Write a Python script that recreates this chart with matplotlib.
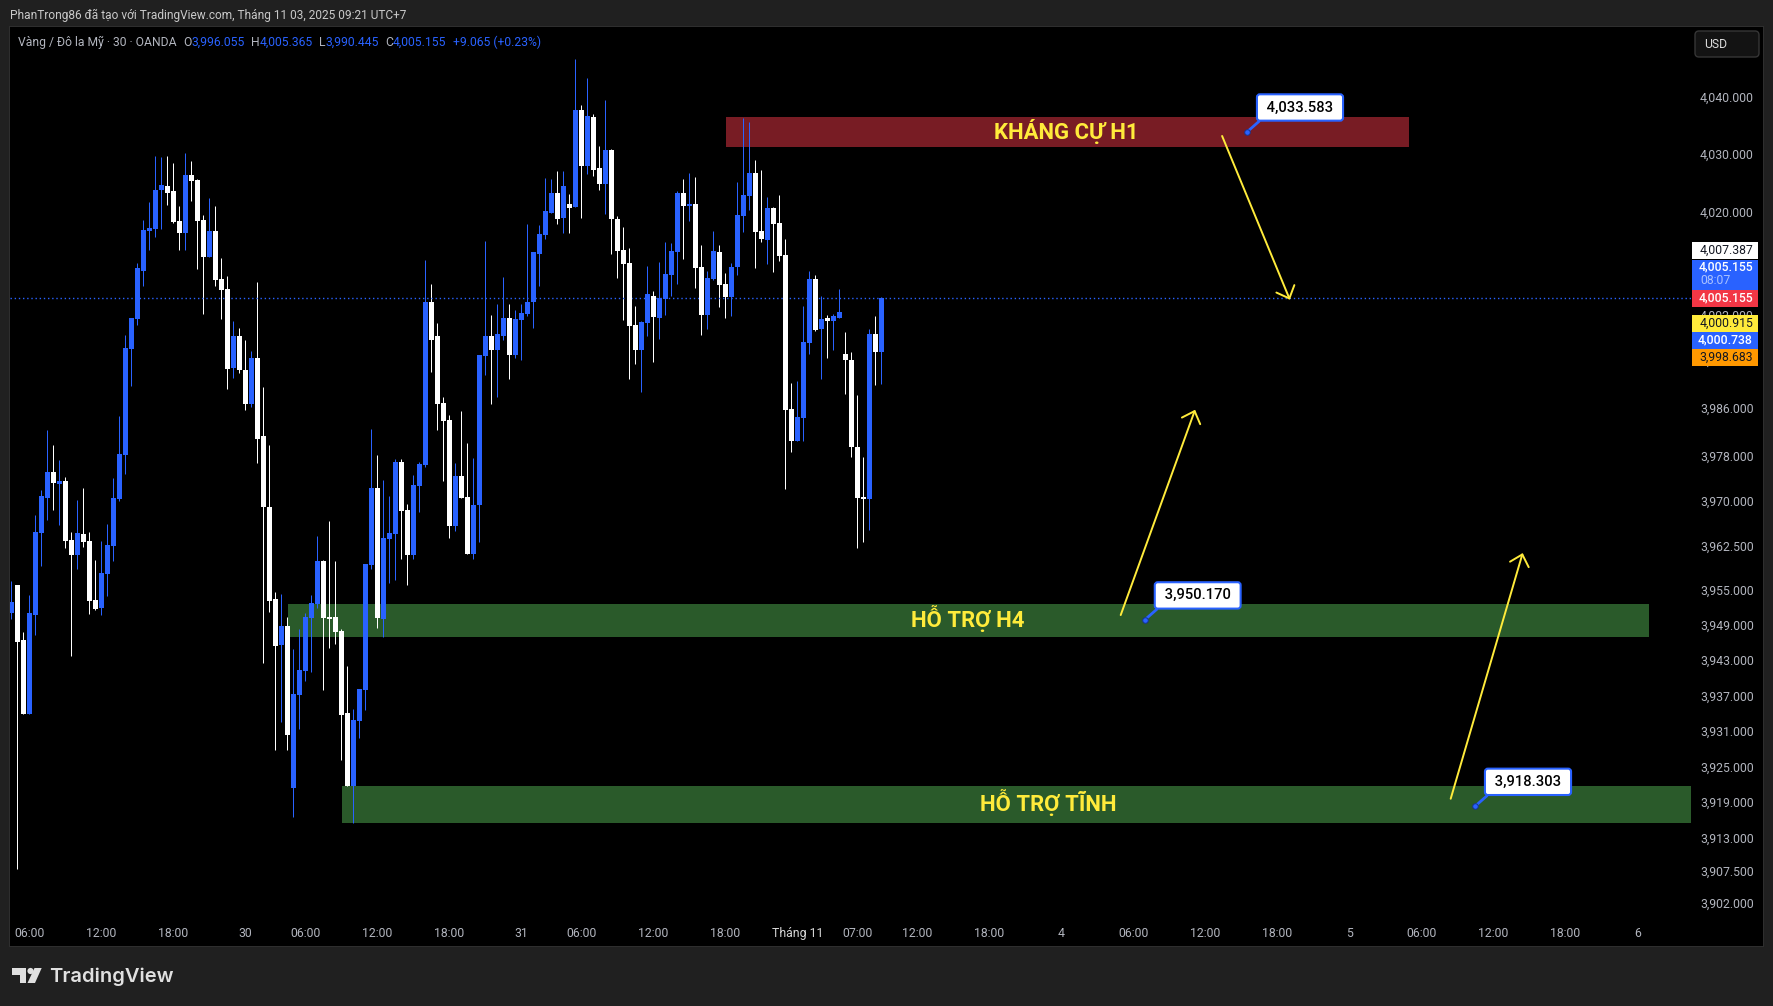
import matplotlib
matplotlib.use("Agg")
import matplotlib.pyplot as plt
from matplotlib.patches import Rectangle, FancyBboxPatch, Polygon, Circle

W, H = 1773, 1006
BLUE = "#2962ff"
YELLOW = "#ffeb3b"
GREY = "#b2b5be"
plt.rcParams["font.family"] = ["Roboto", "DejaVu Sans"]

# one row per 30 min bar
opens = [3951.4, 3956.1, 3946.7, 3934.1, 3951.0, 3965.0, 3971.0, 3975.5, 3973.4, 3973.9,
         3963.8, 3961.3, 3964.9, 3963.7, 3953.6, 3952.2, 3958.0, 3962.8, 3970.9, 3978.4,
         3996.5, 4001.6, 4009.8, 4016.7, 4017.0, 4023.7, 4024.3, 4023.5, 4018.4, 4016.3,
         4026.2, 4025.4, 4018.5, 4012.2, 4016.7, 4008.5, 4006.7, 3993.2, 3998.7, 3992.9,
         3987.1, 3995.0, 3981.6, 3969.5, 3953.8, 3945.9, 3949.1, 3921.5, 3937.3, 3941.4,
         3950.5, 3952.9, 3960.2, 3950.6, 3950.7, 3948.2, 3934.3, 3921.8, 3932.9, 3938.2,
         3959.5, 3972.7, 3950.3, 3964.0, 3964.9, 3977.2, 3969.0, 3961.3, 3973.1, 3976.7,
         4004.5, 3998.7, 3987.3, 3984.3, 3966.2, 3974.8, 3971.2, 3961.4, 3969.8, 3995.3,
         3998.7, 3996.3, 3998.7, 4001.8, 3995.5, 4001.4, 4002.5, 4004.5, 4012.7, 4016.0,
         4019.7, 4023.2, 4018.9, 4021.3, 4020.8, 4037.3, 4027.8, 4036.1, 4027.4, 4024.7,
         4030.5, 4018.7, 4013.4, 4011.2, 4000.6, 3996.3, 4000.9, 4005.5, 4001.8, 4005.0,
         4009.1, 4013.1, 4023.2, 4020.9, 4021.3, 4010.5, 4002.3, 4008.5, 4013.1, 4007.6,
         4005.4, 4010.5, 4019.2, 4022.6, 4026.6, 4016.7, 4015.1, 4020.6, 4018.0, 4012.6,
         3986.2, 3980.8, 3984.7, 3997.5, 4008.5, 3999.9, 4001.8, 4001.3, 4001.8, 3995.6,
         3994.6, 3979.7, 3971.2, 3970.9, 3999.0, 3996.055]
highs = [3956.8, 3956.1, 3948.1, 3954.4, 3968.1, 3972.4, 3982.6, 3980.1, 3977.5, 3974.6,
         3965.2, 3970.7, 3972.7, 3965.2, 3960.4, 3963.7, 3966.6, 3974.4, 3985.0, 3998.9,
         4001.8, 4011.2, 4018.5, 4021.6, 4029.5, 4029.3, 4029.5, 4028.3, 4020.9, 4030.0,
         4028.6, 4025.6, 4019.4, 4022.3, 4020.9, 4012.0, 4009.0, 4001.3, 4000.1, 3998.0,
         3996.2, 4007.9, 3990.0, 3980.1, 3954.9, 3954.6, 3950.7, 3945.2, 3948.6, 3951.4,
         3954.4, 3964.5, 3960.4, 3967.1, 3960.2, 3948.6, 3942.3, 3934.9, 3938.4, 3959.7,
         3982.8, 3978.4, 3974.1, 3971.4, 3977.7, 3977.7, 3970.0, 3974.9, 3977.2, 4011.7,
         4007.6, 4000.9, 3988.3, 3985.2, 3977.0, 3985.9, 3980.4, 3977.9, 3995.5, 4014.9,
         4002.3, 4004.2, 4008.8, 4004.2, 4003.2, 4004.2, 4017.8, 4013.1, 4017.7, 4025.7,
         4025.6, 4026.9, 4026.9, 4023.0, 4046.1, 4038.2, 4042.8, 4036.7, 4031.2, 4039.1,
         4030.7, 4019.2, 4017.3, 4013.7, 4003.8, 4001.3, 4010.7, 4006.4, 4011.4, 4014.8,
         4014.6, 4023.5, 4025.6, 4026.6, 4025.9, 4014.3, 4009.8, 4016.7, 4014.3, 4009.5,
         4011.2, 4025.0, 4036.0, 4035.3, 4028.8, 4027.1, 4022.5, 4020.8, 4022.8, 4015.3,
         3990.7, 3991.0, 4003.8, 4009.8, 4009.1, 4005.5, 4002.3, 4002.5, 4006.7, 3999.4,
         3995.9, 3988.6, 3978.0, 3999.9, 4002.1, 4005.365]
lows = [3950.3, 3907.6, 3934.1, 3934.1, 3947.6, 3959.4, 3967.3, 3969.0, 3966.4, 3962.5,
        3944.0, 3958.9, 3962.6, 3951.2, 3951.9, 3951.0, 3954.3, 3960.2, 3970.5, 3975.1,
        3990.2, 4000.6, 4007.2, 4013.4, 4015.6, 4017.0, 4021.1, 4018.0, 4013.4, 4013.4,
        4021.8, 4010.2, 4002.5, 4012.2, 4007.2, 4001.6, 3989.7, 3991.5, 3992.4, 3986.0,
        3986.6, 3977.0, 3942.8, 3951.5, 3927.9, 3932.7, 3927.9, 3916.5, 3931.5, 3939.7,
        3941.2, 3952.2, 3938.2, 3945.4, 3946.1, 3926.2, 3921.8, 3915.5, 3930.0, 3934.8,
        3958.9, 3948.8, 3947.3, 3956.5, 3957.0, 3960.6, 3956.1, 3960.6, 3968.6, 3976.3,
        3992.6, 3982.6, 3973.9, 3964.2, 3965.4, 3971.0, 3961.4, 3960.6, 3963.5, 3992.0,
        3987.1, 3988.3, 3998.0, 3991.4, 3995.0, 3994.6, 4002.1, 4000.1, 4007.2, 4015.3,
        4019.7, 4017.9, 4016.3, 4016.3, 4020.8, 4018.9, 4026.4, 4026.1, 4023.7, 4019.6,
        4012.7, 4008.6, 4001.4, 3991.4, 3993.9, 3989.1, 3998.7, 3994.3, 3998.2, 4002.3,
        4005.5, 4007.6, 4011.9, 4018.4, 4006.9, 3998.9, 3999.9, 4008.3, 4003.7, 4001.8,
        4002.1, 4009.1, 4016.5, 4020.2, 4010.3, 4014.8, 4011.0, 4009.7, 4011.5, 3972.6,
        3978.9, 3980.8, 3980.8, 3995.6, 3999.6, 3991.4, 3995.0, 3996.3, 4001.8, 3988.8,
        3978.0, 3962.5, 3963.5, 3965.5, 3990.3, 3990.445]
closes = [3953.2, 3946.4, 3934.1, 3951.4, 3965.2, 3971.4, 3975.5, 3973.6, 3973.9, 3963.7,
          3961.3, 3965.0, 3963.5, 3953.4, 3952.0, 3958.2, 3963.0, 3971.0, 3978.5, 3996.7,
          4001.8, 4010.3, 4016.8, 4017.2, 4023.7, 4024.5, 4023.2, 4018.2, 4016.3, 4026.2,
          4025.2, 4018.4, 4012.2, 4016.7, 4008.3, 4006.6, 3993.1, 3998.7, 3992.9, 3987.1,
          3995.0, 3981.1, 3969.5, 3953.4, 3945.7, 3949.1, 3930.5, 3937.5, 3941.6, 3950.7,
          3953.1, 3960.2, 3950.5, 3950.4, 3948.1, 3933.9, 3921.8, 3933.1, 3938.4, 3959.7,
          3972.7, 3950.5, 3964.2, 3965.0, 3977.2, 3968.8, 3961.3, 3973.2, 3976.8, 4004.5,
          3998.0, 3987.1, 3984.2, 3966.2, 3974.8, 3971.0, 3961.4, 3969.8, 3995.5, 3998.7,
          3996.3, 3999.0, 4001.8, 3995.5, 4001.6, 4002.6, 4004.5, 4013.1, 4016.2, 4020.1,
          4023.2, 4018.7, 4024.3, 4020.6, 4037.3, 4027.8, 4036.3, 4027.1, 4024.7, 4030.5,
          4018.7, 4013.2, 4011.0, 4000.4, 3996.3, 4001.1, 4005.9, 4001.9, 4005.2, 4009.3,
          4013.2, 4023.2, 4020.9, 4021.3, 4010.3, 4002.3, 4008.6, 4013.2, 4007.4, 4005.4,
          4010.5, 4019.4, 4022.8, 4026.6, 4016.5, 4015.3, 4020.6, 4017.9, 4012.4, 3986.1,
          3980.8, 3984.9, 3997.7, 4008.5, 3999.7, 4001.6, 4001.3, 4002.1, 4002.8, 3994.6,
          3979.7, 3971.0, 3970.9, 3999.0, 3995.9, 4005.155]

# labels as printed, and where each one sits on the scale
price_labels = ["4,040.000", "4,030.000", "4,020.000", "4,002.000", "3,994.000", "3,986.000",
                "3,978.000", "3,970.000", "3,962.500", "3,955.000", "3,949.000", "3,943.000",
                "3,937.000", "3,931.000", "3,925.000", "3,919.000", "3,913.000", "3,907.500",
                "3,902.000"]
price_ticks = [4039.6, 4029.9, 4020.0, 4002.4, 3994.6, 3986.4, 3978.2, 3970.5, 3962.8, 3955.3,
               3949.4, 3943.3, 3937.2, 3931.2, 3925.1, 3919.1, 3913.0, 3907.3, 3901.8]
time_ticks = [3, 15, 27, 39, 49, 61, 73, 85, 95, 107, 119, 131, 141, 151, 163, 175, 187,
              199, 211, 223, 235, 247, 259, 271]
time_labels = ["06:00", "12:00", "18:00", "30", "06:00", "12:00", "18:00", "31", "06:00",
               "12:00", "18:00", "Tháng 11", "07:00", "12:00", "18:00", "4", "06:00",
               "12:00", "18:00", "5", "06:00", "12:00", "18:00", "6"]

last_price = 4005.155
zone_labels = ["KHÁNG CỰ H1", "HỖ TRỢ H4", "HỖ TRỢ TĨNH"]
zone_x0 = [119.1, 46.1, 55.1]
zone_x1 = [232.95, 272.9, 280.5]
zone_low = [4031.0, 3947.2, 3915.5]
zone_high = [4036.15, 3952.9, 3921.8]
zone_text_x = [175.8, 159.4, 172.9]
zone_text_y = [4033.75, 3950.4, 3919.0]
zone_colors = ["#781c24", "#2a5a2a", "#2a5a2a"]

arrow_x0 = [201.8, 184.9, 239.9]
arrow_y0 = [4032.9, 3951.0, 3919.6]
arrow_x1 = [213.1, 197.3, 251.9]
arrow_y1 = [4004.9, 3986.1, 3961.6]

note_x = [205.95, 188.9, 243.95]
note_prices = [4033.583, 3950.170, 3918.303]

# right hand price tags: label, colour, text colour, top px, bottom px
tag_labels = ["4,007.387", "4,005.155", "4,005.155", "4,000.915", "4,000.738", "3,998.683"]
tag_colors = ["#ffffff", BLUE, "#f23645", YELLOW, BLUE, "#ff9800"]
tag_text = ["#131722", "#ffffff", "#ffffff", "#131722", "#ffffff", "#131722"]
tag_top = [242, 259.7, 290, 315, 332, 349]
tag_bot = [258.7, 289.7, 306.7, 331.7, 348.7, 365.7]


def fx(x):
    return x / W


def fy(y):
    return 1 - y / H


def label(x, y, s, **kw):
    kw.setdefault("va", "center")
    kw.setdefault("zorder", 6)
    fig.text(fx(x), fy(y), s, **kw)


def box(x0, y0, x1, y1, **kw):
    fig.add_artist(Rectangle((fx(x0), fy(y1)), (x1 - x0) / W, (y1 - y0) / H,
                             transform=fig.transFigure, linewidth=0, **kw))


fig = plt.figure(figsize=(W / 100, H / 100), dpi=100, facecolor="#202020")
box(9, 26, 1764, 947, facecolor="#2e2e2e", zorder=-3)
box(10, 27, 1763, 946, facecolor="#000000", zorder=-2)

ax = fig.add_axes([fx(10), fy(921), 1681 / W, (921 - 27) / H], facecolor="#000000")
ax.set_xlim(-0.2167, 279.95)
ax.set_ylim(3898.7, 4051.53)
for s in ax.spines.values():
    s.set_visible(False)

for x0, x1, lo, hi, c in zip(zone_x0, zone_x1, zone_low, zone_high, zone_colors):
    ax.add_patch(Rectangle((x0, lo), x1 - x0, hi - lo, facecolor=c, linewidth=0, zorder=1))

xs = list(range(len(opens)))
colors = ["#ffffff" if c < o else BLUE for o, c in zip(opens, closes)]
ax.vlines(xs, lows, highs, colors=colors, linewidth=0.72, zorder=2)
ax.bar(xs, [abs(c - o) for o, c in zip(opens, closes)],
       bottom=[min(o, c) for o, c in zip(opens, closes)],
       width=5 / 6, color=colors, linewidth=0, zorder=3)

ax.axhline(last_price, color=BLUE, lw=1, ls=(0, (1, 2)), zorder=2.5)

for s, x, y in zip(zone_labels, zone_text_x, zone_text_y):
    ax.text(x, y, s, color=YELLOW, fontsize=15.9, fontweight="bold", ha="center", va="center",
            zorder=5)

for x0, y0, x1, y1 in zip(arrow_x0, arrow_y0, arrow_x1, arrow_y1):
    ax.annotate("", xy=(x1, y1), xytext=(x0, y0),
                arrowprops=dict(arrowstyle="->,head_length=0.75,head_width=0.7", color=YELLOW,
                                lw=1.4, shrinkA=0, shrinkB=0), zorder=6)

for x, p in zip(note_x, note_prices):
    ax.annotate(f"\u00a0{p:,.3f}\u00a0", xy=(x, p), xytext=(53, 24.5), textcoords="offset pixels",
                ha="center", va="center", fontsize=10.6, fontweight="medium", color="#000000",
                bbox=dict(boxstyle="round,pad=0.42,rounding_size=0.2", fc="#ffffff", ec=BLUE, lw=1.5),
                arrowprops=dict(arrowstyle="-", color=BLUE, lw=2, shrinkA=0, shrinkB=0,
                                relpos=(0.05, 0)), zorder=7)
ax.scatter(note_x, note_prices, s=16, facecolor=BLUE, edgecolor="#16338f", linewidth=0.7, zorder=8)

ax.yaxis.tick_right()
ax.set_yticks(price_ticks, price_labels)
ax.set_xticks(time_ticks, time_labels)
ax.tick_params(axis="y", length=0, pad=6.5, labelsize=8.8, labelcolor=GREY)
ax.tick_params(axis="x", length=0, pad=4.5, labelsize=8.8, labelcolor=GREY)
ax.get_xticklabels()[11].set_color("#d8d8d8")

# header and legend
label(9.5, 15.5, "PhanTrong86 đã tạo với TradingView.com, Tháng 11 03, 2025 09:21 UTC+7",
      color="#c9c9c9", fontsize=8.6)
label(18, 42.5, "Vàng / Đô la Mỹ · 30 · OANDA", color=GREY, fontsize=8.7)
for x, s in [(183.5, "O"), (251.5, "H"), (319.5, "L"), (385.7, "C")]:
    label(x, 42.5, s, color=GREY, fontsize=8.7)
for x, s in [(191, "3,996.055"), (259.5, "4,005.365"), (325.7, "3,990.445"), (393, "4,005.155"),
             (452.7, "+9.065 (+0.23%)")]:
    label(x, 42.5, s, color=BLUE, fontsize=8.7)

# USD button
fig.add_artist(FancyBboxPatch((1695, H - 57), 64, 26, boxstyle="round,pad=0,rounding_size=4",
                              transform=None, facecolor="#131313", edgecolor="#363636",
                              linewidth=1, zorder=5))
label(1704, 44.5, "USD", color="#dddddd", fontsize=8.7)

# price tags sit over the tick labels
for s, c, tc, t, b in zip(tag_labels, tag_colors, tag_text, tag_top, tag_bot):
    box(1692, t, 1757.7, b, facecolor=c, zorder=5)
    ty = (t + b) / 2 if b - t < 20 else t + 7.5
    label(1753, ty, s, color=tc, fontsize=8.8, ha="right",
          fontweight="medium" if tc == "#ffffff" else "normal")
label(1700, 281, "08:07", color="#a9c1ff", fontsize=8.8)

# logo
logo = "#e0e0e0"
fig.add_artist(Polygon([(fx(12), fy(968)), (fx(26), fy(968)), (fx(26), fy(983)), (fx(19.5), fy(983)),
                        (fx(19.5), fy(975)), (fx(12), fy(975))],
                       transform=fig.transFigure, facecolor=logo, linewidth=0))
fig.add_artist(Circle((30.5, H - 971), 3.1, transform=None, facecolor=logo, linewidth=0))
fig.add_artist(Polygon([(fx(34.5), fy(968)), (fx(41.7), fy(968)), (fx(35), fy(983)), (fx(27.5), fy(983))],
                       transform=fig.transFigure, facecolor=logo, linewidth=0))
label(49.5, 977, "TradingView", color=logo, fontsize=14.5, fontweight=600,
      family=["Inter", "DejaVu Sans"])

fig.savefig("out.png", dpi=100, facecolor=fig.get_facecolor())
